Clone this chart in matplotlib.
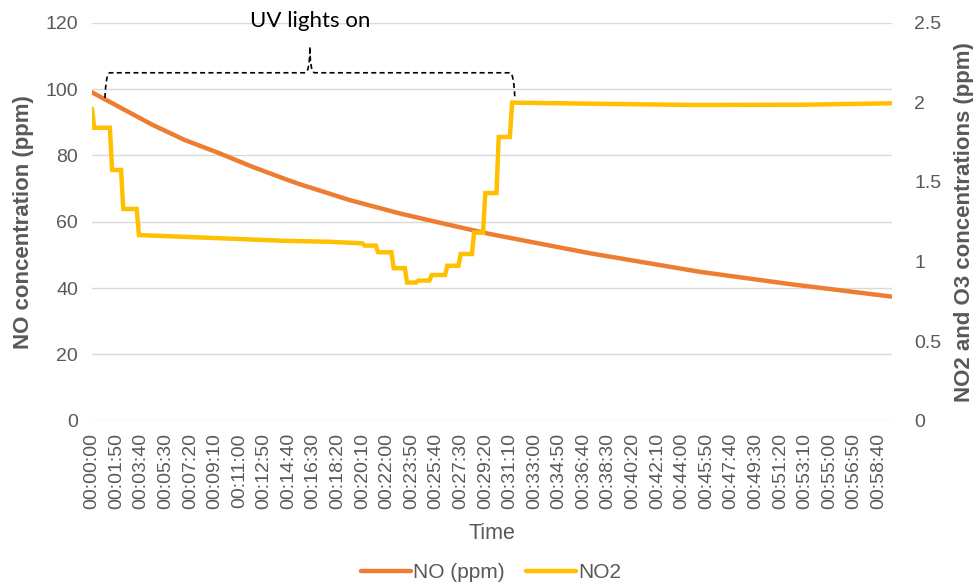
import matplotlib
matplotlib.use("Agg")
import matplotlib.pyplot as plt
from matplotlib.path import Path
from matplotlib.patches import PathPatch

plt.rcParams['font.family'] = ['Liberation Sans', 'DejaVu Sans']

# NO (ppm), left axis; time in seconds
no_t = [0, 116, 268, 416, 564, 716, 863, 930, 1154, 1377, 1601, 1780, 2227, 2719, 3122, 3580]
no_ppm = [99.0, 94.8, 89.3, 84.6, 80.8, 76.6, 72.9, 71.3, 66.5, 62.5, 59.0, 56.3, 50.5, 44.9, 41.2, 37.4]

# NO2 (ppm), right axis; stepwise readings
no2_t = [0, 10, 80, 90, 130, 140, 200, 210, 500, 860, 1060, 1210, 1220, 1270, 1280,
         1340, 1350, 1400, 1410, 1450, 1460, 1510, 1520, 1580, 1590, 1640, 1650,
         1700, 1710, 1750, 1760, 1810, 1820, 1870, 1880, 2300, 2700, 3200, 3580]
no2_ppm = [1.96, 1.84, 1.84, 1.575, 1.575, 1.33, 1.33, 1.166, 1.15, 1.13, 1.124, 1.114, 1.10,
           1.10, 1.058, 1.058, 0.958, 0.958, 0.868, 0.868, 0.880, 0.880, 0.915, 0.915,
           0.973, 0.973, 1.047, 1.047, 1.181, 1.181, 1.43, 1.43, 1.782, 1.782, 1.998,
           1.99, 1.983, 1.985, 1.994]

tick_step = 110
t_end = 3580
uv_start, uv_end = 58, 1892

grey = "#595959"
grid_c = "#D9D9D9"

fig = plt.figure(figsize=(9.73, 5.87), dpi=100)
ax = fig.add_axes([92 / 973, 1 - 420.7 / 587, 800 / 973, 398 / 587])
ax2 = ax.twinx()

l1, = ax.plot(no_t, no_ppm, color="#ED7D31", lw=3.2, solid_capstyle="round", label="NO (ppm)", zorder=3)
l2, = ax2.plot(no2_t, no2_ppm, color="#FFC000", lw=3.2, solid_capstyle="round",
               solid_joinstyle="miter", label="NO2", zorder=3)

ax.set_xlim(0, t_end)
ax.set_ylim(0, 120)
ax2.set_ylim(0, 2.5)
ax.set_yticks(range(0, 121, 20))
ax2.set_yticks([0, 0.5, 1, 1.5, 2, 2.5])
ax2.set_yticklabels(["0", "0.5", "1", "1.5", "2", "2.5"])

ticks = list(range(0, t_end, tick_step))
labels = ["%02d:%02d:%02d" % (s // 3600, (s % 3600) // 60, s % 60) for s in ticks]
ax.set_xticks(ticks)
ax.set_xticklabels(labels, rotation=90)

ax.grid(axis="y", color=grid_c, lw=1)
ax.set_axisbelow(True)
for a in (ax, ax2):
    for s in a.spines.values():
        s.set_visible(False)
    a.tick_params(length=0, colors=grey, labelsize=14)
ax.tick_params(axis="x", pad=9, labelsize=14)
ax.tick_params(axis="y", pad=10)
ax2.tick_params(axis="y", pad=16)

ax.set_ylabel("NO concentration (ppm)", fontsize=16, fontweight="bold", color=grey, labelpad=8)
ax2.set_ylabel("NO2 and O3 concentrations (ppm)", fontsize=16, fontweight="bold", color=grey, labelpad=9)
ax.set_xlabel("Time", fontsize=15.5, color=grey, labelpad=10)

# brace marking UV period
yb, yh, ytop = 97.3, 104.9, 112.8
mid = (uv_start + uv_end) / 2
verts = [(uv_start, yb), (uv_start + 4, yh), (uv_start + 22, yh),
         (mid - 22, yh),
         (mid, yh), (mid, ytop),
         (mid, yh), (mid + 22, yh),
         (uv_end - 22, yh),
         (uv_end - 4, yh), (uv_end, yb)]
codes = [Path.MOVETO, Path.CURVE3, Path.CURVE3, Path.LINETO,
         Path.CURVE3, Path.CURVE3, Path.CURVE3, Path.CURVE3,
         Path.LINETO, Path.CURVE3, Path.CURVE3]
ax.add_patch(PathPatch(Path(verts, codes), fill=False, ls=(0, (3, 2)), lw=1.2,
                       color="black", clip_on=False, zorder=4))
ax.text(mid, 120.6, "UV lights on", ha="center", va="center", fontsize=16,
        family=["Lato", "DejaVu Sans"], color="black", clip_on=False)

fig.legend(handles=[l1, l2], loc="center", bbox_to_anchor=(491 / 973, 1 - 573 / 587),
           ncol=2, frameon=False, fontsize=15, handlelength=2.4, handletextpad=0.1,
           columnspacing=1.0, labelcolor=grey)

fig.savefig("out.png", dpi=100)
